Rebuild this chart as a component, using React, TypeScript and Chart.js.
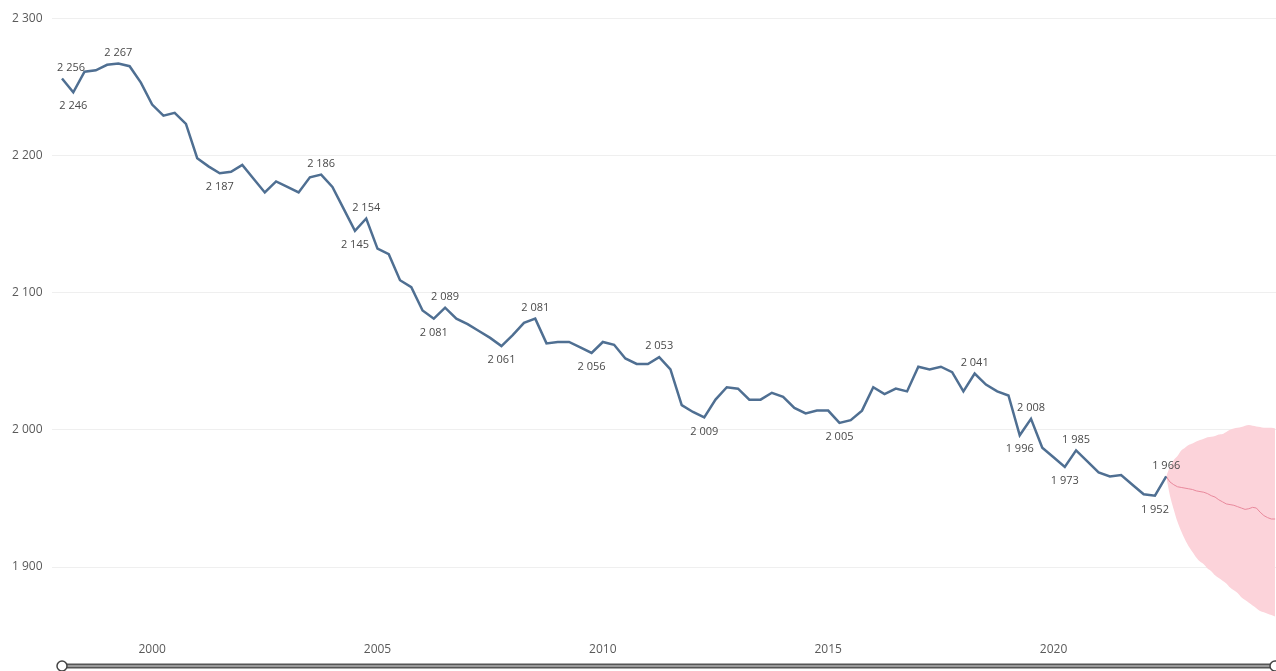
import React, { useEffect, useRef } from "react";
import { Chart, registerables } from "chart.js";

Chart.register(...registerables);

// ---- data ----
const startYear = 1998;
const quarterStep = 0.25;
const actualValues = [
  2256, 2246, 2261, 2262, 2266, 2267, 2265, 2253, 2237, 2229,
  2231, 2223, 2198, 2192, 2187, 2188, 2193, 2183, 2173, 2181,
  2177, 2173, 2184, 2186, 2177, 2161, 2145, 2154, 2132, 2128,
  2109, 2104, 2087, 2081, 2089, 2081, 2077, 2072, 2067, 2061,
  2069, 2078, 2081, 2063, 2064, 2064, 2060, 2056, 2064, 2062,
  2052, 2048, 2048, 2053, 2044, 2018, 2013, 2009, 2022, 2031,
  2030, 2022, 2022, 2027, 2024, 2016, 2012, 2014, 2014, 2005,
  2007, 2014, 2031, 2026, 2030, 2028, 2046, 2044, 2046, 2042,
  2028, 2041, 2033, 2028, 2025, 1996, 2008, 1987, 1980, 1973,
  1985, 1977, 1969, 1966, 1967, 1960, 1953, 1952, 1966,
];

const forecastStart = 2022.5;
const monthStep = 1 / 12;
const forecastCenter = [
  1966, 1962, 1960, 1958.5, 1958, 1957.5, 1957, 1956.5, 1955.5, 1955,
  1954.5, 1953.5, 1952, 1951, 1949, 1947.5, 1946, 1945.5, 1945, 1944,
  1943, 1942, 1942.5, 1943.5, 1943, 1940, 1937.5, 1936, 1935, 1935,
];
const forecastUpper = [
  1966, 1973, 1978, 1981, 1985, 1987, 1989, 1990, 1991.5, 1992.5,
  1993.5, 1994.5, 1995, 1995.5, 1996.5, 1997, 1998.5, 2000, 2001, 2001.5,
  2002, 2003, 2003.5, 2003, 2002.5, 2002, 2001.5, 2001.5, 2001.5, 2001,
];
const forecastLower = [
  1966, 1952, 1942, 1933, 1926, 1920, 1915, 1911, 1907, 1904,
  1902, 1899, 1897, 1894, 1892, 1890, 1888, 1885, 1883, 1881,
  1878, 1876, 1874, 1872, 1870, 1868, 1867, 1866, 1865, 1864,
];

const yTicks = [1900, 2000, 2100, 2200, 2300];
const xTicks = [2000, 2005, 2010, 2015, 2020];

// indices of annotated actual points
const labelsAbove = [0, 5, 23, 27, 34, 42, 53, 81, 86, 90, 98];
const labelsBelow = [1, 14, 26, 33, 39, 47, 57, 69, 85, 89, 97];

// ---- helpers ----
const fmt = (n: number) =>
  String(Math.round(n)).replace(/\B(?=(\d{3})+(?!\d))/g, " ");

const actualPoints = actualValues.map((v, i) => ({ x: startYear + i * quarterStep, y: v }));
const toForecast = (arr: number[]) =>
  arr.map((v, i) => ({ x: forecastStart + i * monthStep, y: v }));

const FONT = "'Open Sans', 'Noto Sans', sans-serif";

const dataLabelPlugin = {
  id: "dataLabels",
  afterDatasetsDraw(chart: any) {
    const { ctx, chartArea, scales } = chart;
    const xs = scales.x;
    const ys = scales.y;
    ctx.save();
    ctx.font = `11px ${FONT}`;
    ctx.fillStyle = "#4a4a4a";
    ctx.textAlign = "center";
    ctx.textBaseline = "middle";
    const draw = (idx: number, dy: number) => {
      const p = actualPoints[idx];
      const text = fmt(p.y);
      const w = ctx.measureText(text).width;
      let x = xs.getPixelForValue(p.x);
      const minX = chartArea.left + 5 + w / 2;
      if (x < minX) x = minX;
      const y = ys.getPixelForValue(p.y) + dy;
      ctx.fillText(text, x, y);
    };
    labelsAbove.forEach((i) => draw(i, -11));
    labelsBelow.forEach((i) => draw(i, 14));
    ctx.restore();
  },
};

const sliderPlugin = {
  id: "slider",
  afterDraw(chart: any) {
    const { ctx, scales, width } = chart;
    const x0 = scales.x.getPixelForValue(startYear);
    const x1 = width;
    const y = 666;
    ctx.save();
    ctx.lineCap = "butt";
    ctx.strokeStyle = "#555555";
    ctx.lineWidth = 5;
    ctx.beginPath();
    ctx.moveTo(x0, y);
    ctx.lineTo(x1, y);
    ctx.stroke();
    ctx.strokeStyle = "#9b9b9b";
    ctx.lineWidth = 2;
    ctx.beginPath();
    ctx.moveTo(x0, y);
    ctx.lineTo(x1, y);
    ctx.stroke();
    [x0, x1 - 1].forEach((cx) => {
      ctx.beginPath();
      ctx.arc(cx, y, 5, 0, Math.PI * 2);
      ctx.fillStyle = "#ffffff";
      ctx.fill();
      ctx.lineWidth = 1.5;
      ctx.strokeStyle = "#444444";
      ctx.stroke();
    });
    ctx.restore();
  },
};

export default function App() {
  const ref = useRef<HTMLCanvasElement | null>(null);

  useEffect(() => {
    if (!ref.current) return;
    const chart = new Chart(ref.current, {
      type: "line",
      data: {
        datasets: [
          {
            label: "Actual",
            data: actualPoints,
            borderColor: "#4f6f92",
            borderWidth: 2.5,
            pointRadius: 0,
            tension: 0,
            fill: false,
          },
          {
            label: "Forecast",
            data: toForecast(forecastCenter),
            borderColor: "#e8899c",
            borderWidth: 1,
            pointRadius: 0,
            tension: 0,
            fill: false,
          },
          {
            label: "Upper",
            data: toForecast(forecastUpper),
            borderWidth: 0,
            borderColor: "rgba(0,0,0,0)",
            backgroundColor: "#fcd3da",
            pointRadius: 0,
            tension: 0.3,
            fill: "+1",
          },
          {
            label: "Lower",
            data: toForecast(forecastLower),
            borderWidth: 0,
            borderColor: "rgba(0,0,0,0)",
            backgroundColor: "#fcd3da",
            pointRadius: 0,
            tension: 0.3,
            fill: false,
          },
        ],
      },
      options: {
        animation: false,
        responsive: false,
        layout: { padding: { left: 12, right: 0, top: 0, bottom: 1 } },
        plugins: {
          legend: { display: false },
          tooltip: { enabled: false },
        },
        scales: {
          x: {
            type: "linear",
            min: 1997.778,
            max: 2024.936,
            grid: { display: false, drawTicks: false },
            border: { display: false },
            afterBuildTicks: (s: any) => {
              s.ticks = xTicks.map((v) => ({ value: v }));
            },
            ticks: {
              padding: 13,
              maxRotation: 0,
              autoSkip: false,
              color: "#5a5a5a",
              font: { family: FONT, size: 12 },
              callback: (v: any) => String(v),
            },
          },
          y: {
            type: "linear",
            min: 1854.4,
            max: 2308,
            afterFit: (s: any) => {
              s.width = 40;
            },
            afterBuildTicks: (s: any) => {
              s.ticks = yTicks.map((v) => ({ value: v }));
            },
            grid: { color: "#efefef", lineWidth: 1, drawTicks: false },
            border: { display: false },
            ticks: {
              crossAlign: "far",
              padding: 0,
              color: "#5a5a5a",
              font: { family: FONT, size: 12 },
              callback: (v: any) => fmt(Number(v)),
            },
          },
        },
      },
      plugins: [dataLabelPlugin, sliderPlugin],
    } as any);
    return () => chart.destroy();
  }, []);

  return (
    <div style={{ position: "fixed", left: 0, top: 0, width: 1276, height: 671, background: "#ffffff" }}>
      <canvas ref={ref} width={1276} height={671} style={{ display: "block" }} />
    </div>
  );
}
